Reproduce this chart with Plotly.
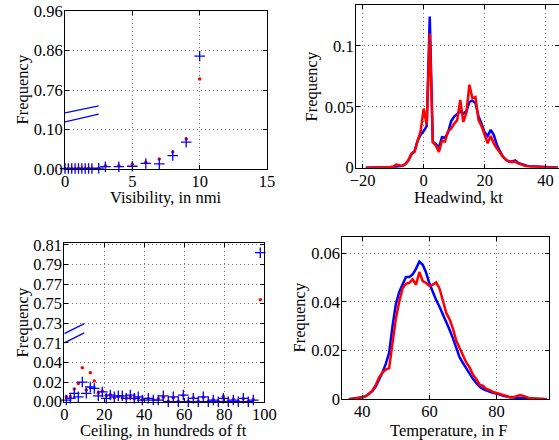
import plotly.graph_objects as go

# ---------------- data ----------------
vis_x = [0, 0.25, 0.5, 0.75, 1, 1.25, 1.5, 1.75, 2, 2.5, 3, 4, 5, 6, 7, 8, 9, 10]
vis_blue = [0.001, 0.001, 0.001, 0.001, 0.001, 0.001, 0.001, 0.001, 0.001, 0.002,
            0.006, 0.006, 0.007, 0.014, 0.013, 0.034, 0.068, 0.846]
vis_red = [0.001, 0.001, 0.001, 0.001, 0.002, 0.002, 0.002, 0.002, 0.002, 0.002,
           0.008, 0.008, 0.012, 0.017, 0.025, 0.043, 0.076, 0.788]
vis_ticks = [0.00, 0.10, 0.76, 0.86, 0.96]

ceil_x = [1, 3, 5, 7, 9, 11, 13, 15, 17, 19, 21, 23, 25, 27, 29, 31, 33, 35, 37, 39,
          42, 44.5, 47, 49.5, 52, 54.5, 57, 59.5, 62, 64.5, 67, 69.5, 72, 74.5, 77,
          79.5, 82, 84.5, 87, 89.5, 92, 94.5, 98]
ceil_blue = [0.0017, 0.0034, 0.0085, 0.0050, 0.0200, 0.0085, 0.0150, 0.0135, 0.0060,
             0.0100, 0.0034, 0.0068, 0.0050, 0.0060, 0.0060, 0.0034, 0.0068, 0.0034,
             0.0050, 0.0017, 0.0034, 0.0017, 0.0017, 0.0060, 0.0, 0.0050, 0.0, 0.0068,
             0.0, 0.0034, 0.0, 0.0050, 0.0, 0.0017, 0.0, 0.0034, 0.0, 0.0017, 0.0,
             0.0034, 0.0, 0.0017, 0.802]
ceil_red = [0.0050, 0.0050, 0.0130, 0.0186, 0.0347, 0.0120, 0.0296, 0.0210, 0.0090,
            0.0110, 0.0060, 0.0070, 0.0040, 0.0050, 0.0040, 0.0035, 0.0050, 0.0030,
            0.0040, 0.0020, 0.0030, 0.0020, 0.0030, 0.0045, 0.0005, 0.0040, 0.0005,
            0.0065, 0.0005, 0.0040, 0.0005, 0.0045, 0.0005, 0.0020, 0.0005, 0.0050,
            0.0005, 0.0025, 0.0005, 0.0030, 0.0005, 0.0020, 0.754]
ceil_ticks = [0.00, 0.02, 0.04, 0.71, 0.73, 0.75, 0.77, 0.79, 0.81]

hw_x = list(range(-19, 45))
hw_blue = [0, 0, 0, 0, 0, 0, 0.0002, 0.0002, 0.0003, 0.0005, 0.0008, 0.0010, 0.0015,
           0.0030, 0.0060, 0.0110, 0.0135, 0.0220, 0.0270, 0.0300, 0.0340, 0.1240,
           0.0210, 0.0195, 0.0165, 0.0250, 0.0245, 0.0290, 0.0380, 0.0420, 0.0440,
           0.0460, 0.0445, 0.0460, 0.0540, 0.0550, 0.0530, 0.0420, 0.0360, 0.0290,
           0.0260, 0.0310, 0.0270, 0.0190, 0.0135, 0.0090, 0.0065, 0.0050, 0.0050,
           0.0060, 0.0040, 0.0030, 0.0020, 0.0015, 0.0012, 0.0010, 0.0008, 0.0006,
           0.0005, 0.0005, 0.0003, 0.0002, 0.0002, 0.0001]
hw_red = [0, 0, 0, 0, 0, 0, 0.0003, 0.0003, 0.0005, 0.0010, 0.0025, 0.0020, 0.0015,
          0.0030, 0.0060, 0.0115, 0.0130, 0.0220, 0.0300, 0.0485, 0.0350, 0.1100,
          0.0210, 0.0180, 0.0130, 0.0220, 0.0215, 0.0300, 0.0320, 0.0360, 0.0390,
          0.0555, 0.0375, 0.0450, 0.0680, 0.0570, 0.0580, 0.0390, 0.0340, 0.0270,
          0.0200, 0.0260, 0.0200, 0.0160, 0.0120, 0.0090, 0.0065, 0.0050, 0.0045,
          0.0050, 0.0035, 0.0025, 0.0018, 0.0012, 0.0010, 0.0008, 0.0006, 0.0005,
          0.0004, 0.0004, 0.0003, 0.0002, 0.0001, 0.0001]

temp_x = list(range(36, 96))
temp_blue = [0.0000, 0.0002, 0.0003, 0.0005, 0.0008, 0.0013, 0.0022, 0.0034, 0.0052,
             0.0080, 0.0110, 0.0145, 0.0190, 0.0300, 0.0390, 0.0440, 0.0475, 0.0502,
             0.0502, 0.0512, 0.0535, 0.0565, 0.0552, 0.0520, 0.0475, 0.0440, 0.0407,
             0.0380, 0.0350, 0.0318, 0.0285, 0.0250, 0.0210, 0.0172, 0.0148, 0.0125,
             0.0103, 0.0083, 0.0066, 0.0051, 0.0042, 0.0035, 0.0031, 0.0027, 0.0024,
             0.0019, 0.0014, 0.0010, 0.0008, 0.0007, 0.0006, 0.0005, 0.0005, 0.0004,
             0.0003, 0.0002, 0.0002, 0.0001, 0.0001, 0.0000]
temp_red = [0.0000, 0.0001, 0.0002, 0.0004, 0.0007, 0.0013, 0.0022, 0.0036, 0.0058,
            0.0090, 0.0110, 0.0122, 0.0128, 0.0230, 0.0330, 0.0400, 0.0455, 0.0474,
            0.0478, 0.0492, 0.0470, 0.0522, 0.0485, 0.0477, 0.0465, 0.0470, 0.0480,
            0.0455, 0.0400, 0.0355, 0.0328, 0.0290, 0.0240, 0.0210, 0.0175, 0.0150,
            0.0130, 0.0100, 0.0082, 0.0060, 0.0055, 0.0042, 0.0038, 0.0030, 0.0026,
            0.0021, 0.0016, 0.0011, 0.0009, 0.0009, 0.0012, 0.0017, 0.0014, 0.0008,
            0.0004, 0.0003, 0.0002, 0.0001, 0.0001, 0.0000]

# axis-break marks (in display units of the broken axes)
vis_break_x = [0, 2.5]
vis_break_upper = [1.42, 1.60]
vis_break_lower = [1.19, 1.39]
ceil_break_x = [0, 10]
ceil_break_upper = [3.47, 3.98]
ceil_break_lower = [3.00, 3.51]

x_titles = ["Visibility, in nmi", "Headwind, kt", "Ceiling, in hundreds of ft", "Temperature, in F"]
y_title = "Frequency"

BLUE = "#0000ff"
RED = "#ff0000"
FONT = "Liberation Serif"
FS = 16.5


def vis_disp(v):
    return v / 0.10 if v <= 0.10 else 2 + (v - 0.76) / 0.10


def ceil_disp(v):
    return v / 0.02 if v <= 0.04 else 3 + (v - 0.71) / 0.02


fig = go.Figure()

cross = dict(symbol="cross-thin", size=7.5, line=dict(color=BLUE, width=1.3), color=BLUE)
dot = dict(symbol="circle", size=3.5, color=RED)

# Visibility
fig.add_trace(go.Scatter(x=vis_x, y=[vis_disp(v) for v in vis_red], mode="markers",
                         marker=dot, xaxis="x", yaxis="y", cliponaxis=False))
fig.add_trace(go.Scatter(x=vis_x, y=[vis_disp(v) for v in vis_blue], mode="markers",
                         marker=cross, xaxis="x", yaxis="y", cliponaxis=False))
for yy in (vis_break_upper, vis_break_lower):
    fig.add_trace(go.Scatter(x=vis_break_x, y=yy, mode="lines", line=dict(color=BLUE, width=1.3),
                             xaxis="x", yaxis="y"))

# Headwind
fig.add_trace(go.Scatter(x=hw_x, y=hw_blue, mode="lines", line=dict(color=BLUE, width=2.5),
                         xaxis="x2", yaxis="y2"))
fig.add_trace(go.Scatter(x=hw_x, y=hw_red, mode="lines", line=dict(color=RED, width=2.5),
                         xaxis="x2", yaxis="y2"))

# Ceiling
fig.add_trace(go.Scatter(x=ceil_x, y=[ceil_disp(v) for v in ceil_red], mode="markers",
                         marker=dot, xaxis="x3", yaxis="y3", cliponaxis=False))
fig.add_trace(go.Scatter(x=ceil_x, y=[ceil_disp(v) for v in ceil_blue], mode="markers",
                         marker=cross, xaxis="x3", yaxis="y3", cliponaxis=False))
for yy in (ceil_break_upper, ceil_break_lower):
    fig.add_trace(go.Scatter(x=ceil_break_x, y=yy, mode="lines", line=dict(color=BLUE, width=1.3),
                             xaxis="x3", yaxis="y3"))

# Temperature
fig.add_trace(go.Scatter(x=temp_x, y=temp_blue, mode="lines", line=dict(color=BLUE, width=2.5),
                         xaxis="x4", yaxis="y4"))
fig.add_trace(go.Scatter(x=temp_x, y=temp_red, mode="lines", line=dict(color=RED, width=2.5),
                         xaxis="x4", yaxis="y4"))

W, H = 559, 440


def xd(a, b):
    return [a / W, min(b / W, 1.0)]


def yd(top, bottom):
    return [1 - bottom / H, 1 - top / H]


ax_common = dict(showline=True, linecolor="black", linewidth=1, mirror="ticks",
                 ticks="inside", ticklen=4, tickcolor="black", automargin=False,
                 showgrid=True, gridcolor="#7a7a7a", griddash="1px,3px", gridwidth=1,
                 zeroline=False, tickfont=dict(family=FONT, size=FS, color="black"))
xa = dict(ax_common, ticklabelstandoff=-3)
ya = dict(ax_common, ticklabelstandoff=-2)
title_font = dict(family=FONT, size=FS, color="black")

fig.update_layout(
    width=W, height=H, margin=dict(l=0, r=0, t=0, b=0),
    paper_bgcolor="white", plot_bgcolor="white", showlegend=False,
    font=dict(family=FONT, size=FS, color="black"),
    xaxis=dict(xa, domain=xd(65, 267), range=[0, 15], tickvals=[0, 5, 10, 15], anchor="y"),
    yaxis=dict(ya, domain=yd(11, 169), range=[0, 4],
               tickvals=[vis_disp(v) for v in vis_ticks],
               ticktext=[f"{v:.2f}" for v in vis_ticks], anchor="x"),
    xaxis2=dict(xa, domain=xd(356, 559), range=[-22.2, 44.4], tickvals=[-20, 0, 20, 40],
                anchor="y2"),
    yaxis2=dict(ya, domain=yd(5, 167.7), range=[0, 0.1334], tickvals=[0, 0.05, 0.1],
                ticktext=["0", "0.05", "0.1"], anchor="x2"),
    xaxis3=dict(xa, domain=xd(64.3, 264.3), range=[0, 100],
                tickvals=[0, 20, 40, 60, 80, 100], anchor="y3"),
    yaxis3=dict(ya, domain=yd(243.3, 401.7), range=[0, 8.08],
                tickvals=[ceil_disp(v) for v in ceil_ticks],
                ticktext=[f"{v:.2f}" for v in ceil_ticks], anchor="x3"),
    xaxis4=dict(xa, domain=xd(342.3, 549.3), range=[34.05, 95.7], tickvals=[40, 60, 80],
                anchor="y4"),
    yaxis4=dict(ya, domain=yd(236.7, 399.3), range=[0, 0.0667],
                tickvals=[0, 0.02, 0.04, 0.06], ticktext=["0", "0.02", "0.04", "0.06"],
                anchor="x4"),
)

# axis titles placed as paper annotations (pixel centres from the reference)
x_title_pos = [(166, 198), (458, 197), (163.5, 430), (448.5, 430)]
y_title_pos = [(21.5, 90), (310.5, 87), (21.5, 323), (298.5, 318)]
for txt, (px, py) in zip(x_titles, x_title_pos):
    fig.add_annotation(text=txt, x=px / W, y=1 - py / H, xref="paper", yref="paper",
                       xanchor="center", yanchor="middle", showarrow=False, font=title_font)
for (px, py) in y_title_pos:
    fig.add_annotation(text=y_title, x=px / W, y=1 - py / H, xref="paper", yref="paper",
                       xanchor="center", yanchor="middle", textangle=-90, showarrow=False,
                       font=title_font)

fig.write_html("out.html", config={"displayModeBar": False},
               post_script="document.body.style.margin='0';document.body.style.overflow='hidden';")
